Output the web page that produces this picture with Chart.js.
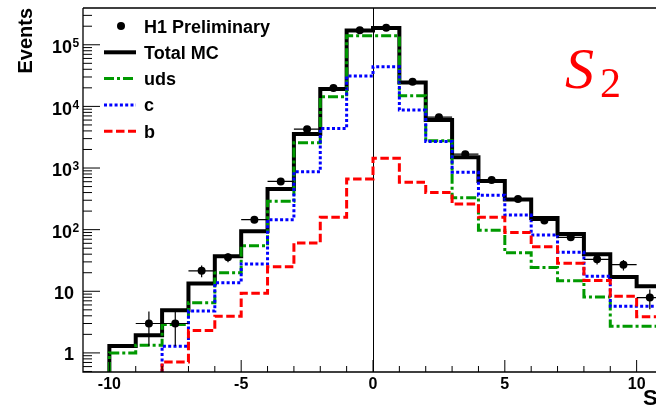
<!DOCTYPE html>
<html>
<head>
<meta charset="utf-8">
<script src="https://cdn.jsdelivr.net/npm/chart.js@4.4.1/dist/chart.umd.min.js"></script>
<style>
  html, body { margin: 0; padding: 0; overflow: hidden; background: #fff; width: 656px; height: 410px; }
  #wrap { position: absolute; left: 0; top: 0; width: 680px; height: 410px; }
</style>
</head>
<body>
<div id="wrap"><canvas id="c" width="680" height="410"></canvas></div>
<script>
// Unit-width bins of the S variable (lower edges plus the final upper edge)
const binEdges = [-10, -9, -8, -7, -6, -5, -4, -3, -2, -1, 0, 1, 2, 3, 4, 5, 6, 7, 8, 9, 10, 11];

// Monte Carlo predictions per bin (events)
const totalMC  = [1.3, 1.94, 4.9, 13.4, 37, 94, 457, 3580, 19200, 171000, 187000, 24500, 6000, 1500, 617, 308, 155, 85, 40, 17, 12.1];
const udsMC    = [1.0, 1.33, 2.9, 6.5, 20, 55, 288, 2580, 14400, 140000, 140000, 14900, 2780, 330, 98, 42, 24.4, 14.8, 8.1, 2.7, 2.7];
const charmMC  = [0, 0, 1.28, 4.8, 13.7, 27.8, 145, 870, 4380, 31000, 44000, 8700, 2690, 853, 360, 173, 82, 43, 17.6, 5.7, 5.7];
const beautyMC = [0, 0, 0.71, 2.3, 3.95, 9.3, 25, 61, 159, 664, 1440, 590, 400, 261, 159, 90, 53, 28.6, 14.9, 8.3, 3.85];

// Measured points: bin centres, counts and statistical errors
const dataS      = [-8.5, -7.5, -6.5, -5.5, -4.5, -3.5, -2.5, -1.5, -0.5, 0.5, 1.5, 2.5, 3.5, 4.5, 5.5, 6.5, 7.5, 8.5, 9.5, 10.5];
const dataEvents = [3.0, 3.0, 21.5, 35.5, 145, 605, 4270, 19800, 172000, 188000, 25000, 6690, 1675, 640, 314, 141, 75, 33, 27, 7.9];
const dataErr    = [1.7, 1.7, 4.6, 6.0, 12, 25, 65, 141, 415, 434, 158, 82, 41, 25, 18, 12, 8.7, 5.7, 5.2, 2.8];

// Axis ticks and labels
const xMajorTicks = [-10, -5, 0, 5, 10];
const xTickLabels = ['-10', '-5', '0', '5', '10'];
const xMinorTicks = [-10, -9, -8, -7, -6, -5, -4, -3, -2, -1, 0, 1, 2, 3, 4, 5, 6, 7, 8, 9, 10];
const yDecades = [0, 1, 2, 3, 4, 5];

const X_MIN = -11, X_MAX = 11;
const Y_MIN = 0.49, Y_MAX = 3.95e5;
const HALF_BIN = 0.5;
const SANS = '"Liberation Sans", Arial, Helvetica, sans-serif';

// Outline of a histogram: horizontal top of every bin, rising from the axis floor
function histPoints(values) {
  const pts = [];
  let started = false;
  values.forEach((v, i) => {
    if (!started) {
      if (!(v > 0)) return;
      started = true;
      pts.push({ x: binEdges[i], y: Y_MIN });
    }
    pts.push({ x: binEdges[i], y: v }, { x: binEdges[i + 1], y: v });
  });
  return pts;
}

const errorBars = {
  id: 'errorBars',
  beforeDatasetDraw(chart, args) {
    if (args.index !== 0) return;
    const { ctx, scales: { x, y } } = chart;
    ctx.save();
    ctx.strokeStyle = '#000';
    ctx.lineWidth = 1.2;
    dataS.forEach((s, i) => {
      const v = dataEvents[i], e = dataErr[i];
      const px = x.getPixelForValue(s), py = y.getPixelForValue(v);
      ctx.beginPath();
      ctx.moveTo(x.getPixelForValue(s - HALF_BIN), py);
      ctx.lineTo(x.getPixelForValue(s + HALF_BIN), py);
      ctx.moveTo(px, y.getPixelForValue(v + e));
      ctx.lineTo(px, y.getPixelForValue(Math.max(v - e, Y_MIN)));
      ctx.stroke();
    });
    ctx.restore();
  }
};

const zeroLine = {
  id: 'zeroLine',
  beforeDatasetsDraw(chart) {
    const { ctx, chartArea: a, scales: { x } } = chart;
    const px = Math.round(x.getPixelForValue(0)) + 0.5;
    ctx.save();
    ctx.strokeStyle = '#000';
    ctx.lineWidth = 1;
    ctx.beginPath();
    ctx.moveTo(px, a.top);
    ctx.lineTo(px, a.bottom);
    ctx.stroke();
    ctx.restore();
  }
};

const frameAndText = {
  id: 'frameAndText',
  afterDraw(chart) {
    const { ctx, chartArea: a, scales: { x, y } } = chart;
    ctx.save();
    ctx.strokeStyle = '#000';
    ctx.fillStyle = '#000';

    // frame
    ctx.lineWidth = 1.3;
    ctx.beginPath();
    ctx.moveTo(a.left, a.top); ctx.lineTo(chart.width, a.top);
    ctx.moveTo(a.left, a.top); ctx.lineTo(a.left, a.bottom);
    ctx.lineTo(chart.width, a.bottom);
    ctx.stroke();

    // y ticks (inside the frame)
    ctx.lineWidth = 1;
    ctx.beginPath();
    yDecades.forEach(k => {
      const py = y.getPixelForValue(Math.pow(10, k));
      ctx.moveTo(a.left, py); ctx.lineTo(a.left + 17, py);
    });
    for (let k = -1; k <= 5; k++) {
      for (let m = 2; m <= 9; m++) {
        const v = m * Math.pow(10, k);
        if (v < Y_MIN || v > Y_MAX) continue;
        const py = y.getPixelForValue(v);
        ctx.moveTo(a.left, py); ctx.lineTo(a.left + 9, py);
      }
    }
    ctx.stroke();

    // x ticks
    ctx.beginPath();
    xMinorTicks.forEach(t => {
      const px = x.getPixelForValue(t);
      const len = xMajorTicks.includes(t) ? 12 : 6;
      ctx.moveTo(px, a.bottom); ctx.lineTo(px, a.bottom - len);
    });
    ctx.stroke();

    // x tick labels
    ctx.font = 'bold 16px ' + SANS;
    ctx.textAlign = 'center';
    ctx.textBaseline = 'alphabetic';
    xMajorTicks.forEach((t, i) => {
      ctx.fillText(xTickLabels[i], x.getPixelForValue(t), a.bottom + 17);
    });

    // y tick labels: 1, 10, 10^k
    yDecades.forEach(k => {
      const py = y.getPixelForValue(Math.pow(10, k));
      if (k < 2) {
        ctx.font = 'bold 18px ' + SANS;
        ctx.textAlign = 'right';
        ctx.fillText(k === 0 ? '1' : '10', 74, py + 7.5);
      } else {
        ctx.font = 'bold 18px ' + SANS;
        ctx.textAlign = 'right';
        ctx.fillText('10', 72, py + 8.3);
        ctx.font = 'bold 12px ' + SANS;
        ctx.textAlign = 'left';
        ctx.fillText(String(k), 72.5, py + 2.3);
      }
    });

    // axis titles
    ctx.font = 'bold 20px ' + SANS;
    ctx.save();
    ctx.translate(32, a.top);
    ctx.rotate(-Math.PI / 2);
    ctx.textAlign = 'right';
    ctx.fillText('Events', 0, 0);
    ctx.restore();
    ctx.font = 'bold 22px ' + SANS;
    ctx.textAlign = 'left';
    ctx.fillText('S', 643, 405);

    // variable label
    ctx.fillStyle = '#ff0000';
    ctx.font = 'italic 58px "Liberation Serif", "Times New Roman", serif';
    ctx.textAlign = 'left';
    ctx.fillText('S', 565, 88);
    ctx.font = '42px "Liberation Serif", "Times New Roman", serif';
    ctx.fillText('2', 600, 97);

    // legend
    const legX0 = 104, legX1 = 136, legText = 144, legTop = 26, legStep = 26.3;
    chart.data.datasets.forEach((ds, i) => {
      const ly = legTop + i * legStep;
      if (ds.showLine === false) {
        ctx.fillStyle = ds.pointBackgroundColor;
        ctx.beginPath();
        ctx.arc((legX0 + legX1) / 2 + 1, ly, ds.pointRadius, 0, Math.PI * 2);
        ctx.fill();
      } else {
        ctx.strokeStyle = ds.borderColor;
        ctx.lineWidth = ds.borderWidth;
        ctx.setLineDash(ds.borderDash || []);
        ctx.beginPath();
        ctx.moveTo(legX0, ly); ctx.lineTo(legX1, ly);
        ctx.stroke();
        ctx.setLineDash([]);
      }
      ctx.fillStyle = '#000';
      ctx.font = 'bold 18px ' + SANS;
      ctx.textAlign = 'left';
      ctx.fillText(ds.label, legText, ly + 6.5);
    });
    ctx.restore();
  }
};

new Chart(document.getElementById('c'), {
  type: 'line',
  data: {
    datasets: [
      {
        label: 'H1 Preliminary',
        data: dataS.map((s, i) => ({ x: s, y: dataEvents[i] })),
        showLine: false,
        pointRadius: 4,
        pointBackgroundColor: '#000',
        pointBorderWidth: 0,
        order: 0
      },
      {
        label: 'Total MC',
        data: histPoints(totalMC),
        borderColor: '#000',
        borderWidth: 4,
        borderJoinStyle: 'miter',
        pointRadius: 0,
        order: 4
      },
      {
        label: 'uds',
        data: histPoints(udsMC),
        borderColor: '#009900',
        borderWidth: 3,
        borderDash: [10, 3, 3, 3],
        pointRadius: 0,
        order: 3
      },
      {
        label: 'c',
        data: histPoints(charmMC),
        borderColor: '#0000ff',
        borderWidth: 3,
        borderDash: [3, 2.3],
        pointRadius: 0,
        order: 2
      },
      {
        label: 'b',
        data: histPoints(beautyMC),
        borderColor: '#ff0000',
        borderWidth: 3,
        borderDash: [8.5, 3.5],
        pointRadius: 0,
        order: 1
      }
    ]
  },
  options: {
    responsive: false,
    animation: false,
    devicePixelRatio: 1,
    layout: { padding: { top: 8, right: 17, left: 0, bottom: 0 } },
    elements: { line: { tension: 0, fill: false } },
    scales: {
      x: {
        type: 'linear', min: X_MIN, max: X_MAX,
        afterFit(s) { s.height = 38; },
        ticks: { display: false }, grid: { display: false }, border: { display: false }
      },
      y: {
        type: 'logarithmic', min: Y_MIN, max: Y_MAX,
        afterFit(s) { s.width = 83; },
        ticks: { display: false }, grid: { display: false }, border: { display: false }
      }
    },
    plugins: { legend: { display: false }, tooltip: { enabled: false } }
  },
  plugins: [zeroLine, errorBars, frameAndText]
});
</script>
</body>
</html>
